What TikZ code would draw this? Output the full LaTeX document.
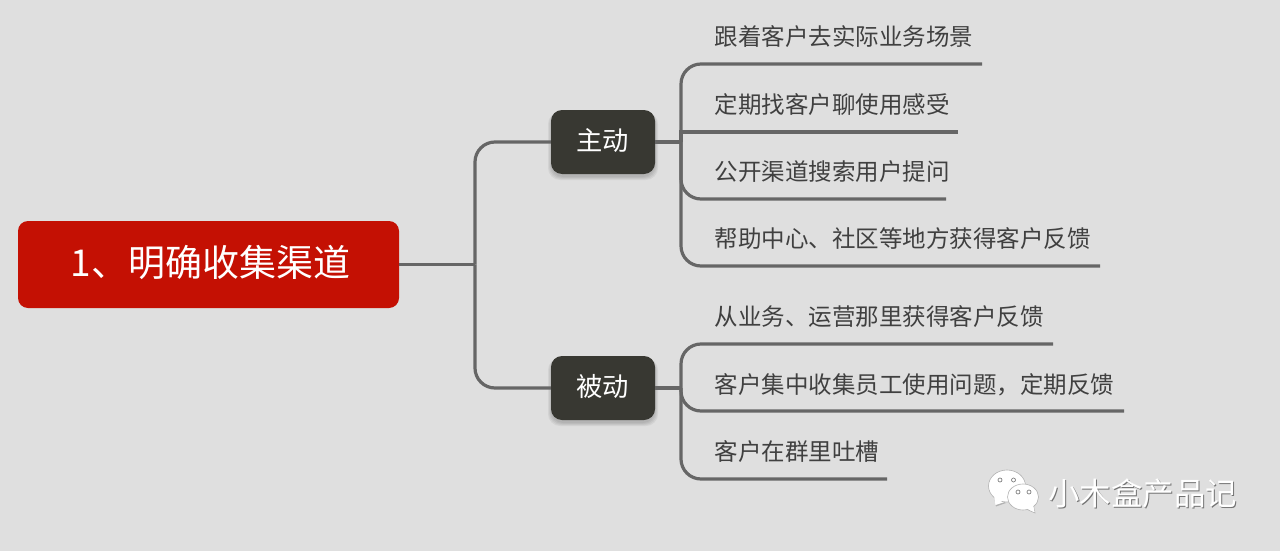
\documentclass[tikz,border=0pt]{standalone}
\usepackage{fontspec}
\setmainfont{Noto Sans CJK SC}
\usetikzlibrary{calc}
\definecolor{bgc}{HTML}{DFDFDF}
\definecolor{rootc}{HTML}{C41003}
\definecolor{darkc}{HTML}{383832}
\definecolor{linec}{HTML}{666666}
\definecolor{leafc}{HTML}{404040}
\newcommand{\upby}[2]{\raisebox{0pt}[\height][\dimexpr\depth+#1\relax]{#2}}
\tikzset{
  rootbox/.style={fill=rootc,rounded corners=10pt,minimum width=381pt,minimum height=87pt,inner sep=0pt,text=white,font=\fontsize{37}{40}\selectfont},
  midbox/.style={fill=darkc,rounded corners=11pt,minimum width=104pt,minimum height=64pt,inner sep=0pt,text=white,font=\fontsize{26.3}{30}\selectfont},
  leaf/.style={anchor=west,inner sep=0pt,text=leafc,font=\fontsize{23.5}{27}\selectfont},
  conn/.style={draw=linec,line width=3.2pt,rounded corners=20pt},
  softshadow/.style={fill=black,fill opacity=0.05,rounded corners=12pt},
  bubble/.style={fill=white,draw=black!30,line width=0.6pt},
  eye/.style={fill=white,draw=black!50,line width=0.7pt},
}
\begin{document}
\begin{tikzpicture}[x=1pt,y=-1pt]
\fill[bgc] (0,0) rectangle (1280,551);
\useasboundingbox (0,0) rectangle (1280,551);
% soft shadows
\foreach \i in {0,1,2,3}{
  \fill[softshadow] (551-\i,112) rectangle (655+\i,177+\i);
  \fill[softshadow] (551-\i,358) rectangle (655+\i,423+\i);
}
% nodes
\node[rootbox] (root) at (208.5,264.5) {\upby{4pt}{\hspace{4pt}1、明确收集渠道}};
\node[midbox] (act) at (603,142) {\upby{3pt}{\hspace{-1pt}主动}};
\node[midbox] (pas) at (603,388) {\upby{3pt}{\hspace{-1pt}被动}};
\node[leaf] (a1) at (714.5,37) {跟着客户去实际业务场景};
\node[leaf] (a2) at (714.5,105) {定期找客户聊使用感受};
\node[leaf] (a3) at (714.5,172) {公开渠道搜索用户提问};
\node[leaf] (a4) at (714.5,239) {帮助中心、社区等地方获得客户反馈};
\node[leaf] (p1) at (714.5,317) {从业务、运营那里获得客户反馈};
\node[leaf] (p2) at (714.5,385) {客户集中收集员工使用问题，定期反馈};
\node[leaf] (p3) at (714.5,452) {客户在群里吐槽};
% free ends
\coordinate (ea1) at (982,64);
\coordinate (ea2) at (958,132);
\coordinate (ea3) at (946,199);
\coordinate (ea4) at (1100,266);
\coordinate (ep1) at (1053,344);
\coordinate (ep2) at (1124,411);
\coordinate (ep3) at (887,479);
\coordinate (ja) at (681,142);
\coordinate (jp) at (681,388);
\coordinate (jr) at (475,264.5);
% connectors
\draw[conn] (root.east) -- (jr);
\draw[conn] (jr) -- (jr |- act.west) -- (act.west);
\draw[conn] (jr) -- (jr |- pas.west) -- (pas.west);
\draw[conn] (act.east) -- (ja);
\draw[conn] (pas.east) -- (jp);
\draw[conn] (ja) -- (ja |- ea1) -- (ea1);
\draw[conn,sharp corners] (ja) -- (ja |- ea2) -- (ea2);
\draw[conn] (ja) -- (ja |- ea3) -- (ea3);
\draw[conn] (ja) -- (ja |- ea4) -- (ea4);
\draw[conn] (jp) -- (jp |- ep1) -- (ep1);
\draw[conn] (jp) -- (jp |- ep2) -- (ep2);
\draw[conn] (jp) -- (jp |- ep3) -- (ep3);
% watermark
\node[anchor=west,inner sep=0pt,font=\fontsize{31.5}{35}\selectfont] (mark) at (1048,494)
  {\rlap{\raisebox{-1.2pt}{\hspace{1.2pt}\textcolor{black!55}{小木盒产品记}}}\textcolor{white}{小木盒产品记}};
\fill[black!30] (996,506.5) -- (993.5,495) -- (1006,503) -- cycle;
\fill[white] (995.5,505) -- (994,495) -- (1006,501.5) -- cycle;
\filldraw[bubble] (1007,486) ellipse (18.5pt and 16pt);
\fill[white] (995.5,504.5) -- (994,495) -- (1004,500) -- cycle;
\filldraw[bubble] (1035,513) -- (1033,503) -- (1026,509) -- cycle;
\filldraw[bubble] (1023,497) ellipse (15.5pt and 13pt);
\fill[white] (1034.5,512) -- (1032.5,503) -- (1027,508.5) -- cycle;
\path[eye] (1000,480) circle (2pt);
\path[eye] (1013.5,480) circle (2pt);
\path[eye] (1018,492) circle (2pt);
\path[eye] (1029,492) circle (2pt);
\end{tikzpicture}
\end{document}
